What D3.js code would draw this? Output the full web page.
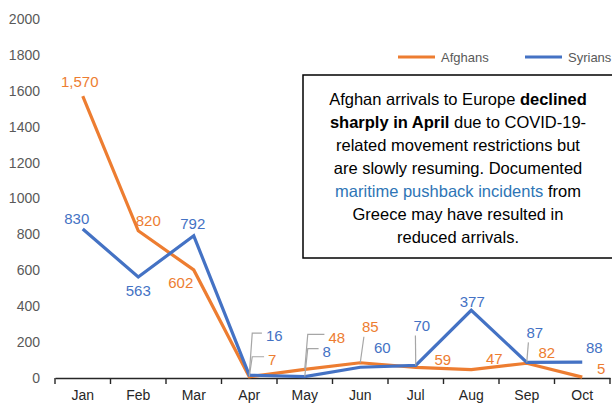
<!DOCTYPE html>
<html>
<head>
<meta charset="utf-8">
<script src="https://cdn.jsdelivr.net/npm/d3@7"></script>
<style>
  body { margin: 0; background: #fff; }
  text { font-family: "Liberation Sans", Arial, sans-serif; }
</style>
</head>
<body>
<svg id="chart" width="612" height="407"></svg>
<script>
const months = ["Jan", "Feb", "Mar", "Apr", "May", "Jun", "Jul", "Aug", "Sep", "Oct"];
const afghans = [1570, 820, 602, 7, 48, 85, 59, 47, 82, 5];
const syrians = [830, 563, 792, 16, 8, 60, 70, 377, 87, 88];
const yTicks = [0, 200, 400, 600, 800, 1000, 1200, 1400, 1600, 1800, 2000];

// label offsets from the point (label centre), and leader style
const afgDx = [-3, 10, -13, 23, 32, 10, 27, 23, 20, 19];
const afgDy = [-14, -10, 13, -17, -32, -36, -8, -11, -11, -8];
const afgLead = [0, 0, 0, "elbow", "elbow", "slant", 0, 0, 0, 0];
const syrDx = [-6, 0, -1, 25, 22, 22, 6, 1, 8, 12];
const syrDy = [-10, 14, -12, -39, -25, -19, -40, -9, -30, -14];
const syrLead = [0, 0, 0, "elbow", "elbow", 0, "slant", 0, "slant", 0];

const orange = "#ED7D31", blue = "#4472C4";

const svg = d3.select("#chart");

const x = d3.scaleBand().domain(months).range([55, 610]);
const y = d3.scaleLinear().domain([0, 2000]).range([378, 19]);
const cx = m => x(m) + x.bandwidth() / 2;

// y tick labels (no axis line)
svg.append("g").selectAll("text")
  .data(yTicks)
  .join("text")
    .attr("x", 40)
    .attr("y", d => y(d))
    .attr("dy", "0.35em")
    .attr("text-anchor", "end")
    .attr("font-size", 14)
    .attr("fill", "#595959")
    .text(d => d);

// x axis
const xa = svg.append("g").attr("transform", "translate(0,378)")
  .call(d3.axisBottom(x).tickSize(0).tickPadding(12));
xa.select(".domain").attr("stroke", "#262626").attr("stroke-width", 1.4);
xa.selectAll("text").attr("font-size", 14).attr("fill", "#262626")
  .attr("font-family", "Liberation Sans, Arial, sans-serif");
xa.selectAll("line.b").data(months.concat(["end"]))
  .join("line")
    .attr("class", "b")
    .attr("x1", (d, i) => x.range()[0] + i * x.step())
    .attr("x2", (d, i) => x.range()[0] + i * x.step())
    .attr("y1", 0).attr("y2", 6)
    .attr("stroke", "#262626").attr("stroke-width", 1.4);

const line = d3.line().x((d, i) => cx(months[i])).y(d => y(d));

function drawSeries(vals, color) {
  svg.append("path")
    .datum(vals)
    .attr("fill", "none")
    .attr("stroke", color)
    .attr("stroke-width", 3.2)
    .attr("stroke-linejoin", "miter")
    .attr("d", line);
}

function drawLabels(vals, color, dx, dy, lead) {
  const g = svg.append("g");
  vals.forEach((v, i) => {
    const px = cx(months[i]), py = y(v);
    const lx = px + dx[i], ly = py + dy[i];
    const t = g.append("text")
      .attr("x", lx).attr("y", ly)
      .attr("dy", "0.35em")
      .attr("text-anchor", "middle")
      .attr("font-size", 15)
      .attr("fill", color)
      .text(d3.format(",")(v));
    const w = t.node().getComputedTextLength();
    const left = lx - w / 2;
    if (lead[i] === "elbow") {
      g.append("path")
        .attr("d", `M${px},${py} L${px + 3},${ly - 3} L${left - 4},${ly - 3}`)
        .attr("fill", "none").attr("stroke", "#a6a6a6").attr("stroke-width", 1.2);
    } else if (lead[i] === "slant") {
      g.append("path")
        .attr("d", `M${px},${py} L${left + 2},${ly + 10}`)
        .attr("fill", "none").attr("stroke", "#a6a6a6").attr("stroke-width", 1.2);
    }
  });
}

drawSeries(afghans, orange);
drawSeries(syrians, blue);
drawLabels(afghans, orange, afgDx, afgDy, afgLead);
drawLabels(syrians, blue, syrDx, syrDy, syrLead);

// legend
const legend = [["Afghans", orange, 398], ["Syrians", blue, 525]];
legend.forEach(([name, color, lx]) => {
  svg.append("line")
    .attr("x1", lx).attr("x2", lx + 37)
    .attr("y1", 57).attr("y2", 57)
    .attr("stroke", color).attr("stroke-width", 3.2);
  svg.append("text")
    .attr("x", lx + 43).attr("y", 57).attr("dy", "0.35em")
    .attr("font-size", 13).attr("fill", "#595959")
    .text(name);
});

// annotation box
svg.append("rect")
  .attr("x", 303).attr("y", 75)
  .attr("width", 330).attr("height", 183)
  .attr("fill", "#fff").attr("stroke", "#000").attr("stroke-width", 1.5);

const note = [
  [["Afghan arrivals to Europe ", 0], ["declined", "b"]],
  [["sharply in April", "b"], [" due to COVID-19-", 0]],
  [["related movement restrictions but", 0]],
  [["are slowly resuming. Documented", 0]],
  [["maritime pushback incidents", "link"], [" from", 0]],
  [["Greece may have resulted in", 0]],
  [["reduced arrivals.", 0]]
];
const nt = svg.append("text")
  .attr("text-anchor", "middle")
  .attr("font-size", 16.5)
  .attr("fill", "#000");
note.forEach((parts, i) => {
  const ln = nt.append("tspan").attr("x", 458).attr("y", 104.5 + i * 23);
  parts.forEach(([s, k]) => {
    ln.append("tspan")
      .attr("font-weight", k === "b" ? "bold" : null)
      .attr("fill", k === "link" ? "#2E75B6" : null)
      .text(s);
  });
});
</script>
</body>
</html>
